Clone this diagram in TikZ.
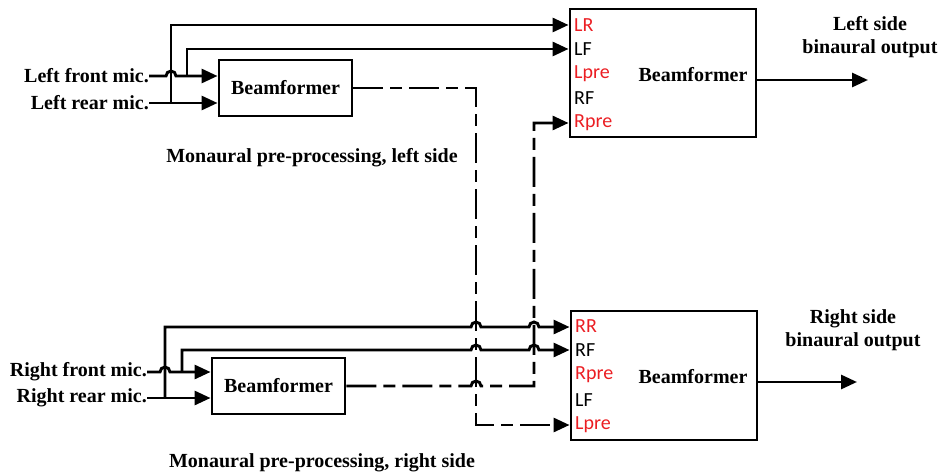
\documentclass[tikz,border=0pt]{standalone}
\usepackage{fontspec}
\setmainfont{Liberation Serif}
\newfontfamily\portfont{Carlito}
\usetikzlibrary{arrows.meta}
\definecolor{portred}{RGB}{235,30,35}

\begin{document}
\begin{tikzpicture}[x=1pt,y=-1pt,
  wire/.style={line width=2.9pt},
  sig/.style={wire,-{Triangle[length=16pt,width=14pt]}},
  dashsig/.style={sig,dash pattern=on 30pt off 7pt on 12pt off 7pt},
  lbl/.style={font=\fontsize{20}{23}\selectfont\bfseries, inner sep=0pt},
  port/.style={font=\fontsize{20}{22}\selectfont\portfont, inner sep=0pt, anchor=west},
  redport/.style={port, text=portred},
  box/.style={draw, line width=2.9pt, inner sep=0pt},
]
\useasboundingbox (0,0) rectangle (939,476);

% ---------- left side ----------
\node[lbl, anchor=east] (lfm) at (149,76) {Left front mic.};
\node[lbl, anchor=east] (lrm) at (149,103) {Left rear mic.};
\node[box, lbl, minimum width=133pt, minimum height=56pt] (lbf) at (285.5,88) {Beamformer};
\node[lbl] (lcap) at (312,158) {Monaural pre-processing, left side};

\node[box, minimum width=186pt, minimum height=128pt] (lbig) at (663,73) {};
\node[lbl] (lbigtxt) at (693,75) {Beamformer};
\node[redport] (lLR)   at (574,25)  {LR};
\node[port]    (lLF)   at (574,49)  {LF};
\node[redport] (lLpre) at (574,73.5){Lpre};
\node[port]    (lRF)   at (574,98)  {RF};
\node[redport] (lRpre) at (574,123) {Rpre};

\coordinate (lfj) at (187,76);
\coordinate (lrj) at (171,103);
\coordinate (lout) at (868,80);
\node[lbl, align=center] (louttxt) at (870,37) {Left side\\binaural output};

% ---------- right side ----------
\node[lbl, anchor=east] (rfm) at (147,372) {Right front mic.};
\node[lbl, anchor=east] (rrm) at (147,398) {Right rear mic.};
\node[box, lbl, minimum width=133pt, minimum height=56pt] (rbf) at (278.5,386) {Beamformer};
\node[lbl] (rcap) at (322,463) {Monaural pre-processing, right side};

\node[box, minimum width=186pt, minimum height=129pt] (rbig) at (664,375.5) {};
\node[lbl] (rbigtxt) at (693,377) {Beamformer};
\node[redport] (rRR)   at (575,326) {RR};
\node[port]    (rRF)   at (575,350) {RF};
\node[redport] (rRpre) at (575,375) {Rpre};
\node[port]    (rLF)   at (575,400) {LF};
\node[redport] (rLpre) at (575,425) {Lpre};

\coordinate (rfj) at (182,372);
\coordinate (rrj) at (165,398);
\coordinate (rout) at (857,382);
\node[lbl, align=center] (routtxt) at (853,330) {Right side\\binaural output};

% ---------- left connections ----------
\draw[sig] (lfm.east) -- (166,76) arc[start angle=180,end angle=0,radius=5pt]
  -- (lbf.west |- lfm.east);
\draw[sig] (lrm.east) -- (lbf.west |- lrm.east);
\draw[sig] (lrj) -- (171,25) -- (lbig.west |- lLR);
\draw[sig] (lfj) -- (187,49) -- (lbig.west |- lLF);
\draw[sig] (lbig.east |- lout) -- (lout);

% ---------- right connections ----------
\draw[sig] (rfm.east) -- (160,372) arc[start angle=180,end angle=0,radius=5pt]
  -- (rbf.west |- rfm.east);
\draw[sig] (rrm.east) -- (rbf.west |- rrm.east);
\draw[sig] (rrj) -- (165,327)
  -- (471,327) arc[start angle=180,end angle=0,radius=5pt]
  -- (529,327) arc[start angle=180,end angle=0,radius=5pt]
  -- (rbig.west |- 0,327);
\draw[sig] (rfj) -- (182,350)
  -- (471,350) arc[start angle=180,end angle=0,radius=5pt]
  -- (529,350) arc[start angle=180,end angle=0,radius=5pt]
  -- (rbig.west |- rRF);
\draw[sig] (rbig.east |- rout) -- (rout);

% ---------- pre-processed signals exchanged between sides ----------
\draw[dashsig] (lbf.east) -- (476,88) -- (476,425) -- (rbig.west |- rLpre);
\draw[dashsig] (rbf.east) -- (471,386) arc[start angle=180,end angle=0,radius=5pt]
  -- (534,386) -- (534,123) -- (lbig.west |- lRpre);
\end{tikzpicture}
\end{document}
